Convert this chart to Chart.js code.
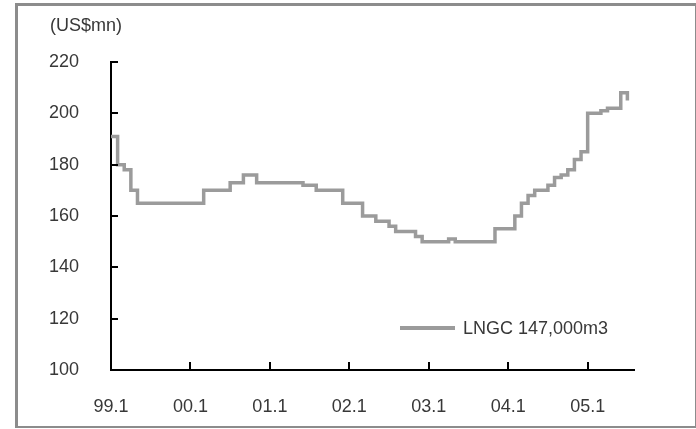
<!DOCTYPE html>
<html>
<head>
<meta charset="utf-8">
<script src="https://cdn.jsdelivr.net/npm/chart.js@4"></script>
<style>
  html, body { margin: 0; padding: 0; background: #fff; }
  #wrap { position: relative; width: 696px; height: 429px; font-family: "Liberation Sans", Arial, sans-serif; }
  #frame {
    position: absolute; left: 15px; top: 3px; width: 677px; height: 420px;
    border-style: solid; border-color: #8c8c8c; border-width: 3px 1px 2px 3px;
    pointer-events: none;
  }
  #unit { position: absolute; left: 50px; top: 14px; font-size: 18px; line-height: 22px; color: #383838; }
  #legend { position: absolute; left: 400px; top: 317px; height: 22px; display: flex; align-items: center; }
  #legend .swatch { width: 55px; height: 4px; background: #9b9b9b; margin-right: 8px; }
  #legend .name { font-size: 18px; line-height: 22px; color: #383838; }
</style>
</head>
<body>
<div id="wrap">
  <canvas id="chart" width="696" height="429"></canvas>
  <div id="frame"></div>
  <div id="unit">(US$mn)</div>
  <div id="legend"><span class="swatch"></span><span class="name" id="legendName"></span></div>
</div>
<script>
// LNGC 147,000m3 newbuilding price, monthly from 99.1
const seriesName = 'LNGC 147,000m3';
const prices = [
  191, 180, 178, 170, 165, 165, 165, 165, 165, 165, 165, 165, 165, 165,
  170, 170, 170, 170, 173, 173, 176, 176, 173, 173, 173, 173, 173, 173, 173,
  172, 172, 170, 170, 170, 170, 165, 165, 165, 160, 160, 158, 158, 156,
  154, 154, 154, 152, 150, 150, 150, 150, 151, 150, 150, 150, 150, 150, 150,
  155, 155, 155, 160, 165, 168, 170, 170, 172, 175, 176, 178, 182, 185,
  200, 200, 201, 202, 202, 208, 205
];
const tickMonths = [0, 12, 24, 36, 48, 60, 72];
const tickLabels = ['99.1', '00.1', '01.1', '02.1', '03.1', '04.1', '05.1'];
const yMin = 100;
const yMax = 220;
const yStep = 20;

document.getElementById('legendName').textContent = seriesName;

// tick marks drawn on the inside of the axes
const innerTicks = {
  id: 'innerTicks',
  afterDraw(chart) {
    const { ctx, chartArea, scales: { x, y } } = chart;
    ctx.save();
    ctx.strokeStyle = '#000';
    ctx.lineWidth = 2;
    y.ticks.forEach(t => {
      const py = Math.round(y.getPixelForValue(t.value));
      ctx.beginPath();
      ctx.moveTo(chartArea.left, py);
      ctx.lineTo(chartArea.left + 7, py);
      ctx.stroke();
    });
    x.ticks.forEach(t => {
      const px = Math.round(x.getPixelForValue(t.value));
      ctx.beginPath();
      ctx.moveTo(px, chartArea.bottom);
      ctx.lineTo(px, chartArea.bottom - 8);
      ctx.stroke();
    });
    ctx.restore();
  }
};

new Chart(document.getElementById('chart'), {
  type: 'line',
  data: {
    datasets: [{
      label: seriesName,
      data: prices.map((v, i) => ({ x: i, y: v })),
      borderColor: '#9b9b9b',
      borderWidth: 3.5,
      pointRadius: 0,
      stepped: true,
      tension: 0
    }]
  },
  options: {
    responsive: false,
    animation: false,
    devicePixelRatio: 1,
    layout: { padding: { top: 62, right: 62, left: 0, bottom: 0 } },
    plugins: {
      legend: { display: false },
      tooltip: { enabled: false }
    },
    scales: {
      x: {
        type: 'linear',
        min: 0,
        max: 79,
        afterBuildTicks: scale => {
          scale.ticks = tickMonths.map(v => ({ value: v }));
        },
        afterFit: scale => { scale.height = 59; },
        ticks: {
          autoSkip: false,
          maxRotation: 0,
          padding: 18,
          color: '#383838',
          font: { family: '"Liberation Sans", Arial, sans-serif', size: 18 },
          callback: value => tickLabels[tickMonths.indexOf(value)]
        },
        grid: { display: false },
        border: { display: true, color: '#000', width: 2 }
      },
      y: {
        min: yMin,
        max: yMax,
        afterFit: scale => { scale.width = 111; },
        ticks: {
          stepSize: yStep,
          padding: 24,
          color: '#383838',
          font: { family: '"Liberation Sans", Arial, sans-serif', size: 18 }
        },
        grid: { display: false },
        border: { display: true, color: '#000', width: 2 }
      }
    }
  },
  plugins: [innerTicks]
});
</script>
</body>
</html>
